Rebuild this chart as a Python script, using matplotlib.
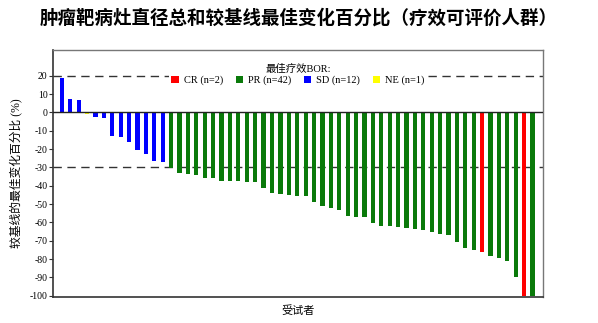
import matplotlib
matplotlib.use("Agg")
import matplotlib.pyplot as plt
from matplotlib.patches import Patch

values = [18.5, 7.1, 6.9, -1.0, -2.7, -3.3, -12.9, -13.3, -16.4, -20.5, -22.7, -26.5, -26.9,
          -30.6, -33.3, -33.8, -34.4, -35.7, -36.0, -37.3, -37.5, -37.5, -37.8, -38.2, -41.1,
          -44.2, -44.6, -45.1, -45.5, -45.7, -49.1, -50.9, -52.2, -53.3, -56.6, -57.1, -57.1,
          -60.2, -61.9, -62.2, -62.7, -63.3, -63.7, -64.4, -65.5, -66.2, -66.9, -70.8, -74.2,
          -75.1, -76.2, -78.4, -79.3, -81.3, -89.7, -100.0, -100.0]
response = (['SD'] * 3 + ['NE'] + ['SD'] * 9 + ['PR'] * 37 + ['CR'] + ['PR'] * 4 + ['CR'] + ['PR'])
categories = ['CR', 'PR', 'SD', 'NE']
counts = [2, 42, 12, 1]
colors = {'CR': '#FF0000', 'PR': '#0A7A0A', 'SD': '#0000FF', 'NE': '#FFFF00'}
yticks = list(range(20, -101, -10))
ref_lines = [20, -30]

serif = ['Liberation Serif', 'Noto Sans CJK SC']

fig = plt.figure(figsize=(5.98, 3.23), dpi=100)
ax = fig.add_axes([53/598, 26/323, 490/598, 247/323])

x = list(range(1, len(values) + 1))
ax.bar(x, values, width=0.5, color=[colors[r] for r in response], zorder=2)

for v in ref_lines:
    ax.axhline(v, color='#333333', lw=1.0, ls=(0, (6, 4)), zorder=1)
ax.axhline(0, color='#222222', lw=1.0, zorder=3)

ax.set_xlim(-0.07, 58.26)
ax.set_ylim(-100.7, 34)
ax.set_yticks(yticks)
ax.set_yticklabels([str(t) for t in yticks], family=serif, fontsize=7)
ax.set_xticks([])
ax.tick_params(axis='y', length=3, width=0.8, pad=1, color='#333333')
for s in ['left', 'bottom']:
    ax.spines[s].set_color('#333333')
    ax.spines[s].set_linewidth(1.2)
for s in ['top', 'right']:
    ax.spines[s].set_color('#777777')
    ax.spines[s].set_linewidth(1.0)

ax.set_ylabel('较基线的最佳变化百分比 (%)', family=serif, fontsize=8.5, labelpad=5)
ax.set_xlabel('受试者', family=serif, fontsize=8, labelpad=6)

handles = [Patch(facecolor=colors[c], edgecolor='none') for c in categories]
labels = [f'{c} (n={n})' for c, n in zip(categories, counts)]
leg = ax.legend(handles, labels, loc='upper center', bbox_to_anchor=(0.5, 0.975), ncol=4,
                title='最佳疗效BOR:', prop={'family': serif, 'size': 7.5},
                frameon=True, facecolor='white', edgecolor='none', framealpha=1,
                handlelength=0.7, handleheight=0.7, handletextpad=0.5, columnspacing=1.2,
                borderpad=0.2, labelspacing=0.2)
leg.get_title().set_family(serif)
leg.get_title().set_fontsize(7.5)
leg.set_zorder(5)

fig.text(0.5, 0.945, '肿瘤靶病灶直径总和较基线最佳变化百分比（疗效可评价人群）',
         ha='center', va='center', family=['Noto Sans CJK SC', 'DejaVu Sans'],
         fontsize=13.3, fontweight='bold')

fig.savefig('out.png', dpi=100)
